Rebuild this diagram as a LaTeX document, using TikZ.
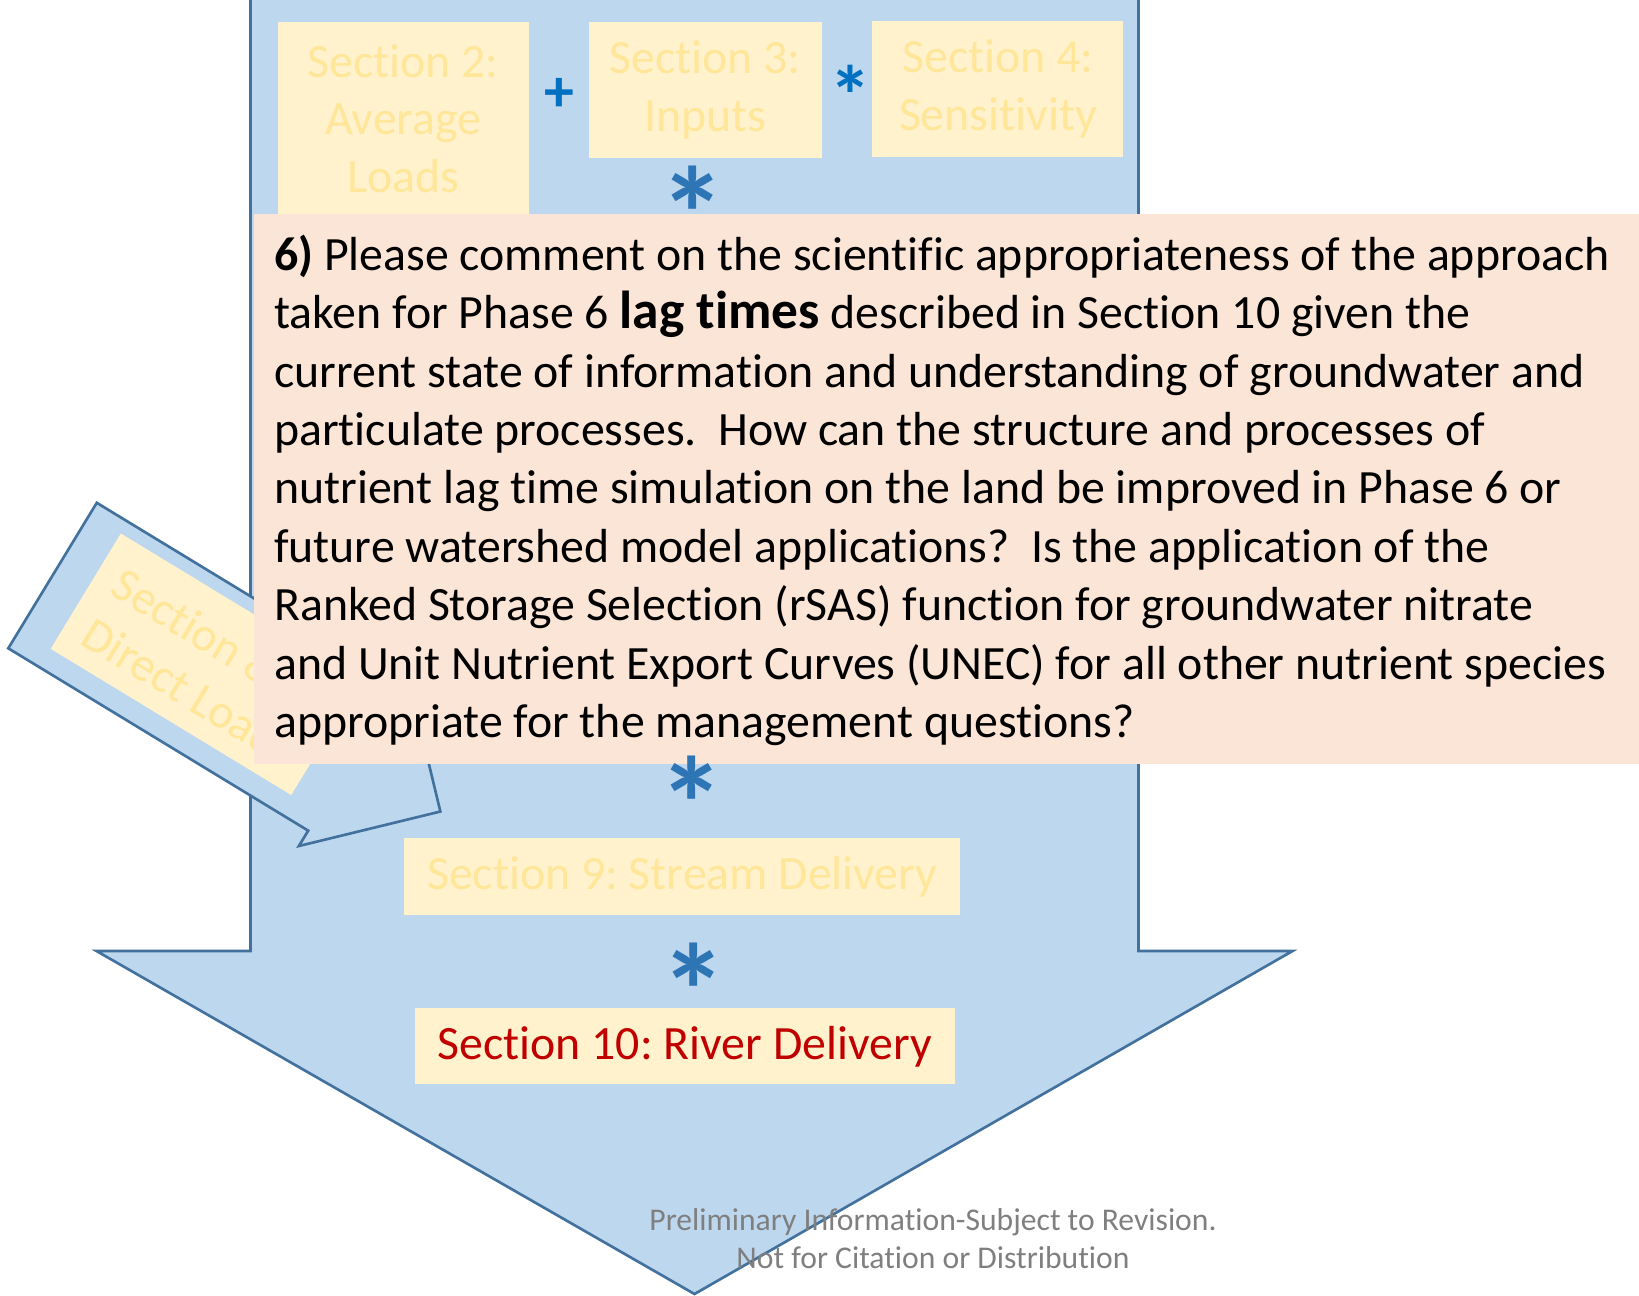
\documentclass[tikz,border=0pt]{standalone}
\usepackage{fontspec}
\setmainfont{Carlito}[Ligatures=NoCommon]
\usetikzlibrary{positioning}
\definecolor{arrowfill}{HTML}{BDD7EE}
\definecolor{arrowline}{HTML}{41719C}
\definecolor{secfill}{HTML}{FFF2CC}
\definecolor{sectext}{HTML}{FFE699}
\definecolor{qfill}{HTML}{FBE5D6}
\definecolor{opblue}{HTML}{0070C0}
\definecolor{starblue}{HTML}{2E75B6}
\definecolor{riverred}{HTML}{C00000}
\definecolor{notegray}{HTML}{7F7F7F}
\frenchspacing
\begin{document}
\begin{tikzpicture}[
  secbox/.style={fill=secfill, inner sep=0pt, text=sectext, align=center,
    font=\fontsize{13.6}{16.4}\selectfont},
  bigop/.style={text=starblue, inner sep=0pt, font=\fontsize{38}{38}\selectfont\bfseries},
  smallop/.style={text=opblue, inner sep=0pt, font=\fontsize{17}{17}\selectfont\bfseries}
]
\useasboundingbox (0,0) rectangle (16.39,-12.96);
% big down arrow
\draw[arrowline, fill=arrowfill, line width=0.75pt]
  (2.505,0.1) -- (2.505,-9.51) -- (0.965,-9.51) -- (6.945,-12.94)
  -- (12.925,-9.51) -- (11.385,-9.51) -- (11.385,0.1);
% top row
\node[secbox, minimum width=2.51cm, minimum height=1.94cm, anchor=north west] (avg) at (2.77,-0.21)
  {Section 2:\\Average\\Loads};
\node[secbox, minimum width=2.33cm, minimum height=1.36cm, anchor=north west] (inp) at (5.88,-0.21)
  {Section 3:\\Inputs};
\node[secbox, minimum width=2.51cm, minimum height=1.36cm, anchor=north west] (sens) at (8.717,-0.2)
  {Section 4:\\Sensitivity};
\node[smallop] (plus) at (5.59,-0.95) {+};
\node[smallop, font=\fontsize{24}{24}\selectfont\bfseries] (times1) at (8.5,-0.95) {*};
\node[bigop] (times2) at (6.927,-2.134) {*};
% tilted arrow
\begin{scope}[shift={(0.083,-6.483)}, rotate=-31.3]
\draw[arrowline, fill=arrowfill, line width=0.75pt]
  (0,0) -- (3.51,0) -- (3.51,-0.18) -- (4.54,0.85) -- (3.51,1.885) -- (3.51,1.703) -- (0,1.703) -- cycle;
\fill[secfill] (0.365,0.216) rectangle (3.18,1.566);
\node[text=sectext, align=left, transform shape, font=\fontsize{13.6}{16.4}\selectfont] (direct) at (1.77,0.86)
  {Section 8:\\Direct Loads};
\end{scope}
% question
\node[fill=qfill, minimum width=13.86cm, minimum height=5.5cm, anchor=north west, inner sep=0pt] (qbox) at (2.533,-2.133) {};
\node[anchor=north west, align=left, inner sep=0pt,
  font=\fontsize{13.6}{16.62}\selectfont] (qtext) at (2.735,-2.34)
  {\textbf{6)} Please comment on the scientific appropriateness of the approach\\
  taken for Phase 6 {\fontsize{15.2}{16.62}\selectfont\bfseries lag times} described in Section 10 given the\\
  current state of information and understanding of groundwater and\\
  particulate processes.\ \ How can the structure and processes of\\
  nutrient lag time simulation on the land be improved in Phase 6 or\\
  future watershed model applications?\ \ Is the application of the\\
  Ranked Storage Selection (rSAS) function for groundwater nitrate\\
  and Unit Nutrient Export Curves (UNEC) for all other nutrient species\\
  appropriate for the management questions?};
% lower chain
\node[bigop] (times3) at (6.92,-8.04) {*};
\node[secbox, minimum width=5.56cm, minimum height=0.77cm, anchor=north west] (stream) at (4.035,-8.373)
  {Section 9: Stream Delivery};
\node[bigop] (times4) at (6.94,-9.91) {*};
\node[secbox, text=riverred, minimum width=5.40cm, minimum height=0.76cm, anchor=north west] (river) at (4.14,-10.077)
  {Section 10: River Delivery};
\node[text=notegray, align=center, inner sep=0pt, font=\fontsize{9}{10.7}\selectfont] (note) at (9.33,-12.385)
  {Preliminary Information-Subject to Revision.\\Not for Citation or Distribution};
\end{tikzpicture}
\end{document}
